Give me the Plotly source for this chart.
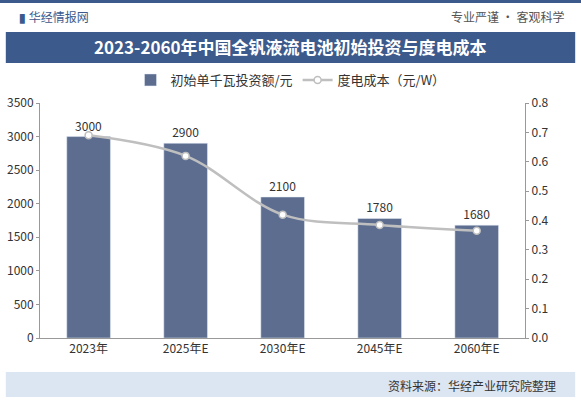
import plotly.graph_objects as go

categories = ["2023年", "2025年E", "2030年E", "2045年E", "2060年E"]
investment = [3000, 2900, 2100, 1780, 1680]
lcoe = [0.69, 0.62, 0.42, 0.385, 0.365]

F = "Noto Sans CJK SC"
H = 403
def py(px):
    return (H - px) / H

fig = go.Figure()
fig.add_trace(go.Bar(x=categories, y=investment, name="初始单千瓦投资额/元",
    marker_color="#5c6d8f", width=0.45, text=[str(v) for v in investment],
    textposition="outside", textfont=dict(size=12, color="#333"), cliponaxis=False))
fig.add_trace(go.Scatter(x=categories, y=lcoe, name="度电成本（元/W）", yaxis="y2",
    mode="lines+markers", line=dict(color="#bfbfbf", width=2.5, shape="spline"),
    marker=dict(size=7, color="white", line=dict(color="#bfbfbf", width=1.5))))

fig.update_layout(
    width=581, height=H, margin=dict(l=0, r=0, t=0, b=0, autoexpand=False),
    paper_bgcolor="white", plot_bgcolor="white", font=dict(family=F, size=12, color="#333"),
    showlegend=True,
    legend=dict(orientation="h", x=0.5, xanchor="center", y=py(80), yanchor="middle",
                font=dict(size=13), traceorder="normal", bgcolor="rgba(0,0,0,0)"),
    xaxis=dict(domain=[0.069, 0.904], showline=True, linecolor="#999", ticks="", tickfont=dict(size=12)),
    yaxis=dict(domain=[py(338), py(103)], range=[0, 3500], dtick=500, showgrid=False,
               showline=True, linecolor="#999", ticks="outside", ticklen=3, tickcolor="#999"),
    yaxis2=dict(overlaying="y", side="right", range=[0, 0.8], dtick=0.1, showgrid=False,
                showline=True, linecolor="#999", ticks="outside", ticklen=3, tickcolor="#999",
                tickformat=".1f"),
    shapes=[
        dict(type="rect", xref="paper", yref="paper", x0=0, x1=1, y0=py(3), y1=1.0,
             fillcolor="#3c5a8c", line_width=0, layer="below"),
        dict(type="rect", xref="paper", yref="paper", x0=0.01, x1=0.99, y0=py(63), y1=py(32),
             fillcolor="#3c5a8c", line_width=0, layer="below"),
        dict(type="rect", xref="paper", yref="paper", x0=0.01, x1=0.99, y0=py(397), y1=py(372),
             fillcolor="#dce6f2", line_width=0, layer="below"),
    ],
    annotations=[
        dict(text="<b>▮</b> 华经情报网", xref="paper", yref="paper", x=0.03, y=py(16),
             showarrow=False, xanchor="left", yanchor="middle", font=dict(size=12, color="#3c5a8c")),
        dict(text="专业严谨 • 客观科学", xref="paper", yref="paper", x=0.975, y=py(16),
             showarrow=False, xanchor="right", yanchor="middle", font=dict(size=12, color="#555")),
        dict(text="<b>2023-2060年中国全钒液流电池初始投资与度电成本</b>", xref="paper", yref="paper",
             x=0.5, y=py(47), showarrow=False, yanchor="middle", font=dict(size=17, color="white")),
        dict(text="资料来源：华经产业研究院整理", xref="paper", yref="paper", x=0.96, y=py(385),
             showarrow=False, xanchor="right", yanchor="middle", font=dict(size=12, color="#333")),
    ],
)
fig.write_html("out.html", config={"displayModeBar": False},
               post_script="document.body.style.margin='0';")
